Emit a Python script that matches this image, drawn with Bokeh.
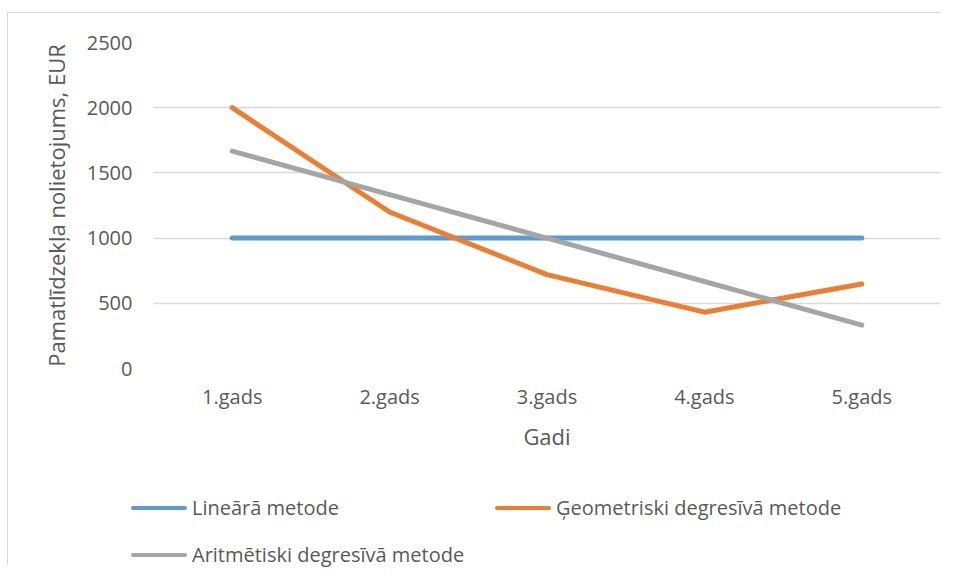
from bokeh.plotting import figure
from bokeh.models import Range1d, FactorRange, Div
from bokeh.layouts import column
from bokeh.embed import file_html
from bokeh.resources import INLINE

years = ["1.gads", "2.gads", "3.gads", "4.gads", "5.gads"]
linear = [1000, 1000, 1000, 1000, 1000]
geometric = [2000, 1200, 720, 432, 648]
arithmetic = [1667, 1333, 1000, 667, 333]
y_ticks = [0, 500, 1000, 1500, 2000, 2500]

name_linear = "Lineārā metode"
name_geom = "Ģeometriski degresīvā metode"
name_arith = "Aritmētiski degresīvā metode"

FONT = "Open Sans"
TXT = "#595959"
C_LIN, C_GEO, C_ARI = "#5B9BD5", "#ED7D31", "#A5A5A5"
EDGE = "#d9d9d9"

p = figure(width=941, height=466, output_backend="svg", toolbar_location=None,
           x_range=FactorRange(*years, range_padding=0),
           y_range=Range1d(0, 2500),
           min_border_left=153, min_border_right=1, min_border_top=42, min_border_bottom=98)
p.styles = {
    "background": (f"linear-gradient({EDGE},{EDGE}) 7px 12px / 1px 100% no-repeat, "
                   f"linear-gradient({EDGE},{EDGE}) 7px 12px / 100% 1px no-repeat, white"),
}
p.outline_line_color = None
p.background_fill_color = "white"
p.border_fill_color = None

p.line(years, linear, line_color=C_LIN, line_width=5, line_cap="round", line_join="round")
p.line(years, geometric, line_color=C_GEO, line_width=5, line_cap="round", line_join="round")
p.line(years, arithmetic, line_color=C_ARI, line_width=5, line_cap="round", line_join="round")

p.xgrid.grid_line_color = None
p.ygrid.grid_line_color = EDGE
p.ygrid.grid_line_width = 1.5
p.yaxis.ticker = y_ticks

for ax in (p.xaxis[0], p.yaxis[0]):
    ax.axis_line_color = None
    ax.major_tick_line_color = None
    ax.minor_tick_line_color = None
    ax.major_tick_out = 0
    ax.major_tick_in = 0
    ax.major_label_text_font = FONT
    ax.major_label_text_font_size = "20px"
    ax.major_label_text_color = TXT
    ax.axis_label_text_font = FONT
    ax.axis_label_text_font_size = "22px"
    ax.axis_label_text_font_style = "normal"
    ax.axis_label_text_color = TXT

p.yaxis.axis_label = "Pamatlīdzekļa nolietojums, EUR"
p.xaxis.axis_label = "Gadi"
p.yaxis.major_label_standoff = 21
p.yaxis.axis_label_standoff = 13
p.xaxis.major_label_standoff = 14
p.xaxis.axis_label_standoff = 8

# legend strip below the chart (rows at 42px and 89px inside the strip)
legend_rows = [(name_linear, C_LIN, 131, 42), (name_geom, C_GEO, 495, 42), (name_arith, C_ARI, 131, 89)]
parts = [f'<span style="position:absolute;left:7px;top:0;width:1px;height:99px;background:{EDGE}"></span>']
for label, color, left, cy in legend_rows:
    parts.append(f'<span style="position:absolute;left:{left}px;top:{cy-2}px;width:56px;height:4px;'
                 f'background:{color};border-radius:2px"></span>')
    parts.append(f'<span style="position:absolute;left:{left+61}px;top:{cy-14}px;height:28px;'
                 f'line-height:28px;white-space:nowrap">{label}</span>')
html = (f'<div style="position:relative;margin:0;padding:0;width:941px;height:99px;font-family:\'{FONT}\';'
        f'font-size:20px;color:{TXT};">' + "".join(parts) + "</div>")
leg = Div(text=html, width=941, height=99, margin=0)
leg.styles = {"padding": "0", "margin": "0", "background": "white"}

open("out.html", "w").write(file_html(column(p, leg), INLINE))
